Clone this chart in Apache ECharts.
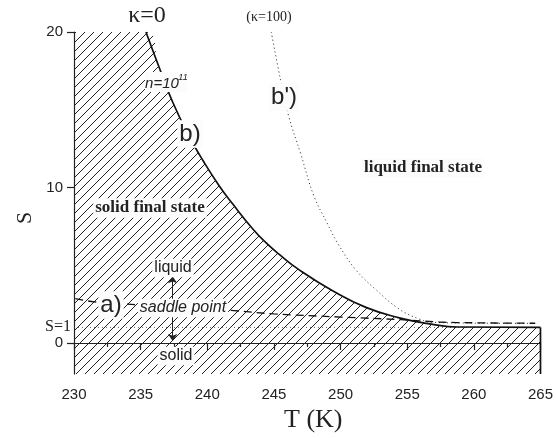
<!DOCTYPE html>
<html>
<head>
<meta charset="utf-8">
<script src="https://cdn.jsdelivr.net/npm/echarts@6/dist/echarts.min.js"></script>
<style>
html,body{margin:0;padding:0;background:#fff;}
#main{width:556px;height:438px;}
</style>
</head>
<body>
<div id="main"></div>
<script>
// b) kappa=0 boundary, n=10^11
var curveB = [[235.4,20],[236.4,17.7],[237.4,15.5],[238.7,13.2],[239.7,11.7],[240.9,10.1],[241.9,8.95],[243.4,7.35],[244.4,6.45],[245.4,5.7],[246.9,4.7],[249.4,3.36],[251.9,2.29],[254.4,1.62],[256.9,1.2],[258.8,1.03],[265,1]];
// b') kappa=100
var curveB2 = [[244.8,20],[245.5,16.9],[246.1,14.6],[247.0,12.2],[248.0,9.45],[249.0,7.7],[249.75,6.46],[251.1,4.75],[252.6,3.47],[254.4,2.18],[255.9,1.54],[256.9,1.33],[260,1.28],[264.6,1.26]];
// a) saddle point
var saddle = [[230.1,2.85],[231.5,2.65],[234,2.5],[238,2.25],[242,2.08],[245,1.87],[250,1.67],[254.5,1.5],[257.4,1.35],[260,1.3],[264.6,1.27]];
var sOne = [[230,1],[265,1]];
var rightEdge = [[265,1],[265,-2]];
var yTickValues = [0, 10, 20];

var myChart = echarts.init(document.getElementById('main'));

// hatch pattern
var hatch = document.createElement('canvas');
hatch.width = 9;
hatch.height = 9;
var ctx = hatch.getContext('2d');
ctx.strokeStyle = '#222';
ctx.lineWidth = 1;
ctx.beginPath();
ctx.moveTo(0, 9); ctx.lineTo(9, 0);
ctx.moveTo(-1, 1); ctx.lineTo(1, -1);
ctx.moveTo(8, 10); ctx.lineTo(10, 8);
ctx.stroke();

var serif = '"Liberation Serif", "DejaVu Serif", serif';
var sans = '"Liberation Sans", Arial, sans-serif';
var measure = document.createElement('canvas').getContext('2d');

var graphics = [];
// light box behind a label
function box(x, y, w, h) {
    graphics.push({
        type: 'rect', z: 99,
        shape: { x: x - w / 2, y: y - h / 2, width: w, height: h },
        style: { fill: '#fcfcfc', stroke: null }
    });
}
function txt(x, y, s, font, size, bg) {
    if (bg) {
        measure.font = font;
        box(x, y, measure.measureText(s).width + 4, size * 1.15);
    }
    graphics.push({
        type: 'text', x: x, y: y, z: 100,
        style: {
            text: s, font: font, fill: '#222',
            align: 'center', verticalAlign: 'middle',
            textAlign: 'center', textVerticalAlign: 'middle'
        }
    });
}

txt(147, 16, 'κ=0', '24px ' + serif, 24);
txt(269, 17, '(κ=100)', '14px ' + serif, 14);
box(166, 82, 42, 20);
txt(162, 84, 'n=10', 'italic 15px ' + sans, 15);
txt(183, 77, '11', 'italic 9px ' + sans, 9);
txt(190, 134, 'b)', '24px ' + sans, 24, true);
txt(284, 97, "b')", '24px ' + sans, 24, true);
txt(111, 305, 'a)', '24px ' + sans, 24, true);
txt(423, 168, 'liquid final state', 'bold 17px ' + serif, 17, true);
txt(150, 208, 'solid final state', 'bold 17px ' + serif, 17, true);
txt(173, 268, 'liquid', '16px ' + sans, 16, true);
txt(176, 356, 'solid', '16px ' + sans, 16, true);
txt(183, 308, 'saddle point', 'italic 16px ' + sans, 16, true);
txt(58, 327, 'S=1', '16px ' + serif, 16);
graphics.push({
    type: 'text', x: 25, y: 218, rotation: Math.PI / 2,
    style: { text: 'S', font: '22px ' + serif, fill: '#222', align: 'center', verticalAlign: 'middle', textAlign: 'center', textVerticalAlign: 'middle' }
});

option = {
    animation: false,
    grid: { left: 74, right: 13, top: 32, bottom: 63 },
    xAxis: {
        type: 'value',
        min: 230, max: 265, interval: 5,
        name: 'T (K)',
        nameLocation: 'middle',
        nameGap: 31,
        nameTextStyle: { fontFamily: serif, fontSize: 26, color: '#222', padding: [0, 0, 0, 12] },
        axisLine: { lineStyle: { color: '#222', width: 1.2 } },
        axisTick: { length: 7, lineStyle: { color: '#222', width: 1.2 } },
        minorTick: { show: true, splitNumber: 2, length: 4, lineStyle: { color: '#222', width: 1.2 } },
        axisLabel: { fontFamily: sans, fontSize: 15, color: '#222', margin: 13 },
        splitLine: { show: false }
    },
    yAxis: {
        type: 'value',
        min: -2, max: 20,
        axisLine: { show: true, lineStyle: { color: '#222', width: 1.2 } },
        axisTick: { show: true, length: 7, customValues: yTickValues, lineStyle: { color: '#222', width: 1.2 } },
        axisLabel: { customValues: yTickValues, fontFamily: sans, fontSize: 15, color: '#222', margin: 11 },
        splitLine: { show: false }
    },
    series: [
        {
            // hatched solid region
            type: 'line',
            data: [[230, 20]].concat(curveB),
            symbol: 'none',
            smooth: 0.5,
            lineStyle: { width: 0 },
            areaStyle: { origin: 'start', color: { image: hatch, repeat: 'repeat' }, opacity: 1 },
            z: 1
        },
        {
            type: 'line',
            data: sOne,
            symbol: 'none',
            lineStyle: { color: '#444', width: 0.8, type: [1, 3] },
            z: 2
        },
        {
            type: 'line',
            data: curveB,
            symbol: 'none',
            smooth: 0.5,
            lineStyle: { color: '#111', width: 1.7 },
            z: 3
        },
        {
            type: 'line',
            data: rightEdge,
            symbol: 'none',
            lineStyle: { color: '#111', width: 1.7 },
            z: 3
        },
        {
            type: 'line',
            data: curveB2,
            symbol: 'none',
            smooth: 0.4,
            lineStyle: { color: '#222', width: 1, type: [1, 3] },
            z: 3
        },
        {
            type: 'line',
            data: saddle,
            symbol: 'none',
            smooth: 0.4,
            lineStyle: { color: '#111', width: 1.3, type: [8, 5] },
            z: 3,
            markLine: {
                silent: true,
                symbol: ['none', 'arrow'],
                symbolSize: 7,
                label: { show: false },
                lineStyle: { color: '#222', width: 1, type: 'solid' },
                data: [
                    [{ coord: [237.4, 2.82] }, { coord: [237.4, 4.3] }],
                    [{ coord: [237.4, 1.67] }, { coord: [237.4, 0.13] }]
                ]
            }
        }
    ],
    graphic: graphics
};
myChart.setOption(option);
</script>
</body>
</html>
